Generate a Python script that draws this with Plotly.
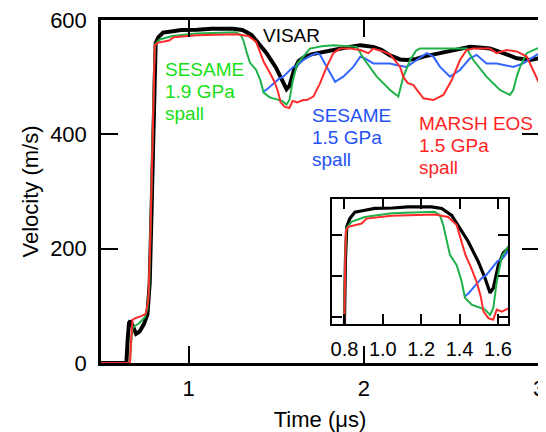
import plotly.graph_objects as go

# ---------------- data (time in microseconds, velocity in m/s) ----------------
visar_t = [0.50, 0.645, 0.652, 0.660, 0.668, 0.685, 0.700, 0.720, 0.745, 0.765, 0.778,
           0.788, 0.797, 0.805, 0.812, 0.828, 0.854, 0.900, 0.958, 1.050, 1.130, 1.254,
           1.307, 1.359, 1.393, 1.445, 1.498, 1.533, 1.559, 1.576, 1.602, 1.628, 1.654,
           1.700, 1.731, 1.780, 1.826, 1.900, 1.980, 2.054, 2.100, 2.150, 2.207, 2.245,
           2.300, 2.340, 2.435, 2.530, 2.606, 2.660, 2.720, 2.796, 2.873, 2.950, 3.000]
visar_v = [0, 0, 40, 70, 74, 60, 51, 55, 68, 85, 140,
           260, 400, 520, 560, 570, 578, 580, 582.5, 583, 584.5, 584.5,
           582.5, 574, 562, 542, 517, 497, 479, 485, 513, 528, 534,
           540, 542, 545, 547.5, 552, 556, 553, 548, 538, 531, 530,
           532, 536, 542, 547.5, 553, 552, 550, 542, 533, 530, 533]

sesame19_t = [0.50, 0.665, 0.672, 0.680, 0.700, 0.720, 0.750, 0.765, 0.775, 0.785, 0.795,
              0.803, 0.810, 0.836, 0.906, 1.045, 1.270, 1.298, 1.315, 1.333, 1.350, 1.385,
              1.411, 1.428, 1.463, 1.533, 1.559, 1.576, 1.594, 1.620, 1.654, 1.693, 1.760,
              1.826, 1.960, 1.998, 2.074, 2.150, 2.197, 2.226, 2.264, 2.300, 2.320, 2.378,
              2.480, 2.587, 2.625, 2.700, 2.777, 2.834, 2.853, 2.873, 2.892, 2.930, 2.987, 3.000]
sesame19_v = [0, 0, 35, 62, 66, 70, 80, 95, 130, 250, 400,
              520, 558, 566, 572, 576.5, 578.5, 574, 562, 542, 525.6, 513,
              493, 473, 464.6, 458.5, 452, 460.6, 493, 523.5, 536, 550, 554,
              556, 553, 533, 501, 477.5, 466, 501, 530, 547, 550, 550,
              550, 550, 530, 501, 477.5, 469, 477.5, 501, 518, 542, 550, 551]

sesame15_t = [1.428, 1.445, 1.463, 1.515, 1.540, 1.568, 1.598, 1.620, 1.654, 1.700, 1.731,
              1.750, 1.788, 1.836, 1.883, 1.940, 1.980, 2.007, 2.054, 2.111, 2.150, 2.188,
              2.245, 2.302, 2.359, 2.397, 2.435, 2.492, 2.549, 2.606, 2.644, 2.700, 2.758,
              2.853, 2.910, 2.987, 3.000]
sesame15_v = [475, 478, 483, 497, 501, 509, 518, 520, 530, 538, 542,
              539, 518, 492, 501, 518, 536, 533, 524, 524, 524, 521,
              518, 530, 542, 536, 518, 501, 512.5, 533, 539, 524, 524,
              518, 524, 539, 541]

marsh_t = [0.50, 0.665, 0.672, 0.680, 0.700, 0.730, 0.755, 0.770, 0.780, 0.790, 0.800,
           0.807, 0.820, 0.854, 0.889, 0.915, 1.045, 1.270, 1.341, 1.385, 1.410, 1.430,
           1.460, 1.490, 1.510, 1.525, 1.550, 1.575, 1.594, 1.620, 1.654, 1.674, 1.712,
           1.750, 1.788, 1.826, 1.864, 1.920, 1.980, 2.026, 2.054, 2.111, 2.150, 2.175,
           2.207, 2.226, 2.250, 2.283, 2.340, 2.397, 2.454, 2.502, 2.549, 2.587, 2.625,
           2.720, 2.758, 2.815, 2.873, 2.930, 2.968, 3.000]
marsh_v = [0, 0, 40, 76, 79, 82, 86, 110, 200, 350, 500,
           555, 560, 562, 564, 570, 573.5, 575, 572, 562, 542, 526,
           510, 492, 475, 456, 448, 446, 458.5, 456, 460, 460, 466,
           489, 518, 542, 550, 550, 547.5, 542, 550, 545, 540, 530,
           518, 500, 490, 486, 463, 460, 469, 495, 530, 547.5, 550,
           550, 542, 547.5, 545, 536, 512.5, 490]

main_xticks = [1, 2, 3]
main_yticks = [0, 200, 400, 600]
inset_xticks = [0.8, 1.0, 1.2, 1.4, 1.6]
inset_xticklabels = ["0.8", "1.0", "1.2", "1.4", "1.6"]
inset_yticks = [450, 500, 550]

# ---------------- styles ----------------
BLACK = "#000000"
GREEN = "#1fb24a"
BLUE = "#3366ff"
RED = "#ff2b2b"
GREEN_TXT = "#16e016"
BLUE_TXT = "#2352f5"
RED_TXT = "#ff1f1f"
FONT = "Liberation Sans, Arial, sans-serif"

fig = go.Figure()

series = [
    (visar_t, visar_v, BLACK, 4.0, 3.2),
    (sesame15_t, sesame15_v, BLUE, 2.0, 2.0),
    (sesame19_t, sesame19_v, GREEN, 2.0, 2.0),
    (marsh_t, marsh_v, RED, 2.0, 2.0),
]
for t, v, c, w_main, w_inset in series:
    fig.add_trace(go.Scatter(x=t, y=v, mode="lines", line=dict(color=c, width=w_main),
                             xaxis="x", yaxis="y", showlegend=False, hoverinfo="skip"))
for t, v, c, w_main, w_inset in series:
    fig.add_trace(go.Scatter(x=t, y=v, mode="lines", line=dict(color=c, width=w_inset),
                             xaxis="x2", yaxis="y2", showlegend=False, hoverinfo="skip"))

# ---------------- annotations ----------------
def add_lines(lines, x, ys, color):
    for txt, y in zip(lines, ys):
        fig.add_annotation(x=x, y=y, xref="x", yref="y", text=txt, showarrow=False,
                           xanchor="left", yanchor="middle",
                           font=dict(family=FONT, size=19, color=color))

add_lines(["VISAR"], 1.415, [572.5], BLACK)
add_lines(["SESAME", "1.9 GPa", "spall"], 0.855, [513.5, 475.0, 436.5], GREEN_TXT)
add_lines(["SESAME", "1.5 GPa", "spall"], 1.693, [432.5, 394.0, 355.5], BLUE_TXT)
add_lines(["MARSH EOS", "1.5 GPa", "spall"], 2.301, [419.5, 381.0, 342.5], RED_TXT)

axis_common = dict(showline=True, linecolor="black", mirror="ticks", ticks="inside",
                   showgrid=False, zeroline=False, tickcolor="black", automargin=False,
                   ticklabeloverflow="allow")

# the page places the figure 8 px from the window's top-left corner,
# so the figure is 8 px smaller and its left/top margins are 8 px less.
fig.update_layout(
    width=538, height=424,
    margin=dict(l=93, r=7, t=12, b=69),
    paper_bgcolor="white", plot_bgcolor="white",
    font=dict(family=FONT, size=22, color="black"),
    xaxis=dict(range=[0.5, 3.0], tickvals=main_xticks, ticklen=17, tickwidth=2,
               linewidth=2.5, ticklabelstandoff=4,
               title=dict(text="Time (μs)", font=dict(size=22), standoff=20),
               tickfont=dict(size=22), **axis_common),
    yaxis=dict(range=[0, 600], tickvals=main_yticks, ticklen=17, tickwidth=2,
               linewidth=2.5, ticklabelstandoff=7,
               title=dict(text="Velocity (m/s)", font=dict(size=22), standoff=6),
               tickfont=dict(size=22), **axis_common),
    xaxis2=dict(domain=[0.527, 0.929], anchor="y2", range=[0.734, 1.652],
                tickvals=inset_xticks, ticktext=inset_xticklabels, ticklen=10, tickwidth=2,
                linewidth=2, ticklabelstandoff=6, tickfont=dict(size=20), **axis_common),
    yaxis2=dict(domain=[0.114, 0.478], anchor="x2", range=[441, 594],
                tickvals=inset_yticks, showticklabels=False, ticklen=10, tickwidth=2,
                linewidth=2, **axis_common),
)

fig.write_html("out.html")
